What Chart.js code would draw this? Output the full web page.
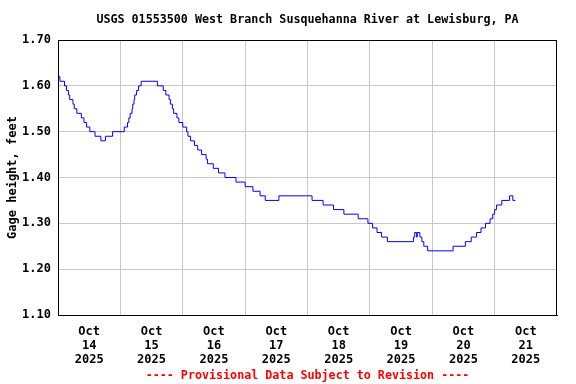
<!DOCTYPE html>
<html><head><meta charset="utf-8">
<script src="https://cdn.jsdelivr.net/npm/chart.js@4/dist/chart.umd.min.js"></script>
<style>html,body{margin:0;padding:0;background:#fff}</style>
</head><body>
<canvas id="c" width="576" height="384"></canvas>
<script>
const titleText = 'USGS 01553500 West Branch Susquehanna River at Lewisburg, PA';
const noteText = '---- Provisional Data Subject to Revision ----';
const yTitle = 'Gage height, feet';

// hours since Oct 14 2025 00:00 at which each reading level begins
const hours = [0, 0.75, 2.5, 3.25, 4, 4.5, 5.75, 6.25, 7.25, 9,
  10, 11, 12.25, 14.25, 16.5, 18.25, 21, 25.5, 26.75, 27.25,
  27.75, 28.5, 28.75, 29.25, 29.5, 30.25, 31, 32, 38.25, 40.5,
  41.5, 42.75, 43.25, 44, 44.5, 45.75, 46.5, 48, 49.5, 50,
  51, 52.5, 53.75, 55.25, 57, 57.5, 59.75, 61.75, 64.25, 68.5,
  72, 75, 77.75, 79.75, 85, 97.75, 102, 106, 110, 115.5,
  119.25, 121, 122.75, 124.5, 126.75, 136.75, 137.25, 138, 138.25, 139.25,
  140, 140.75, 142.25, 152, 156.75, 159, 161, 162.75, 164.5, 166.25,
  167.25, 168, 168.75, 170.75, 173.75, 175, 176];
// gage height, feet
const gage = [1.62, 1.61, 1.60, 1.59, 1.58, 1.57, 1.56, 1.55, 1.54, 1.53,
  1.52, 1.51, 1.50, 1.49, 1.48, 1.49, 1.50, 1.51, 1.52, 1.53,
  1.54, 1.55, 1.56, 1.57, 1.58, 1.59, 1.60, 1.61, 1.60, 1.59,
  1.58, 1.57, 1.56, 1.55, 1.54, 1.53, 1.52, 1.51, 1.50, 1.49,
  1.48, 1.47, 1.46, 1.45, 1.44, 1.43, 1.42, 1.41, 1.40, 1.39,
  1.38, 1.37, 1.36, 1.35, 1.36, 1.35, 1.34, 1.33, 1.32, 1.31,
  1.30, 1.29, 1.28, 1.27, 1.26, 1.27, 1.28, 1.27, 1.28, 1.27,
  1.26, 1.25, 1.24, 1.25, 1.26, 1.27, 1.28, 1.29, 1.30, 1.31,
  1.32, 1.33, 1.34, 1.35, 1.36, 1.35, 1.35];

const gridHours = [0, 24, 48, 72, 96, 120, 144, 168, 192];
const labelHours = [12, 36, 60, 84, 108, 132, 156, 180];
const dayLabels = ['14', '15', '16', '17', '18', '19', '20', '21'];
const monthLabel = 'Oct';
const yearLabel = '2025';
const yTicks = [1.10, 1.20, 1.30, 1.40, 1.50, 1.60, 1.70];

const FONT = {family: "'DejaVu Sans Mono', monospace", size: 12, weight: 'bold'};
const HEAD_FONT = {family: "'DejaVu Sans Mono', monospace", size: 11.7, weight: 'bold'};

const frame = {
  id: 'frame',
  afterLayout(chart) {
    // centre title and note over the plot area
    const a = chart.chartArea;
    chart.boxes.forEach(b => {
      if (b.options && (b.options.text === titleText || b.options.text === noteText)) {
        b.left = a.left; b.right = a.right; b.width = a.right - a.left;
      }
    });
  },
  afterDraw(chart) {
    const a = chart.chartArea, ctx = chart.ctx;
    ctx.save();
    ctx.strokeStyle = '#000';
    ctx.lineWidth = 1;
    ctx.strokeRect(Math.round(a.left) + 0.5, Math.round(a.top) + 0.5,
      Math.round(a.right) - Math.round(a.left) - 1, Math.round(a.bottom) - Math.round(a.top));
    ctx.restore();
  }
};

new Chart(document.getElementById('c'), {
  type: 'line',
  data: {
    datasets: [{
      data: hours.map((h, i) => ({x: h, y: gage[i]})),
      borderColor: '#0000ff',
      borderWidth: 1,
      pointRadius: 0,
      stepped: true,
      fill: false
    }]
  },
  options: {
    responsive: false,
    animation: false,
    layout: {padding: {left: 0, right: 19, top: 0, bottom: 0}},
    plugins: {
      legend: {display: false},
      tooltip: {enabled: false},
      title: {display: true, text: titleText, color: '#000', font: HEAD_FONT,
        padding: {top: 12.5, bottom: 13.46}},
      subtitle: {display: true, text: noteText, position: 'bottom', color: '#ff0000', font: HEAD_FONT,
        padding: {top: 0, bottom: 0.6}}
    },
    scales: {
      x: {
        type: 'linear', min: 0, max: 192,
        afterBuildTicks: s => { s.ticks = gridHours.concat(labelHours).sort((a, b) => a - b).map(v => ({value: v})); },
        afterFit: s => { s.height = 54.36; },
        grid: {
          drawTicks: false,
          color: c => (c.tick && gridHours.includes(c.tick.value) && c.tick.value !== 0 && c.tick.value !== 192) ? '#c8c8c8' : 'rgba(0,0,0,0)',
          lineWidth: 1
        },
        border: {display: true, color: '#000'},
        ticks: {
          autoSkip: false, maxRotation: 0, minRotation: 0, padding: 10,
          color: '#000', font: Object.assign({}, FONT, {lineHeight: 14 / 12}),
          callback: v => {
            const i = labelHours.indexOf(v);
            return i >= 0 ? [monthLabel, dayLabels[i], yearLabel] : '';
          }
        }
      },
      y: {
        type: 'linear', min: 1.10, max: 1.70,
        afterBuildTicks: s => { s.ticks = yTicks.map(v => ({value: v})); },
        afterFit: s => { s.width = 58; },
        grid: {
          drawTicks: false,
          color: c => (c.tick && c.tick.value > 1.101 && c.tick.value < 1.699) ? '#c8c8c8' : 'rgba(0,0,0,0)'
        },
        border: {display: true, color: '#000'},
        ticks: {padding: 7, color: '#000', font: FONT, callback: v => Number(v).toFixed(2)},
        title: {display: true, text: yTitle, color: '#000', font: FONT, padding: {top: 6, bottom: 0}}
      }
    }
  },
  plugins: [frame]
});
</script>
</body></html>
